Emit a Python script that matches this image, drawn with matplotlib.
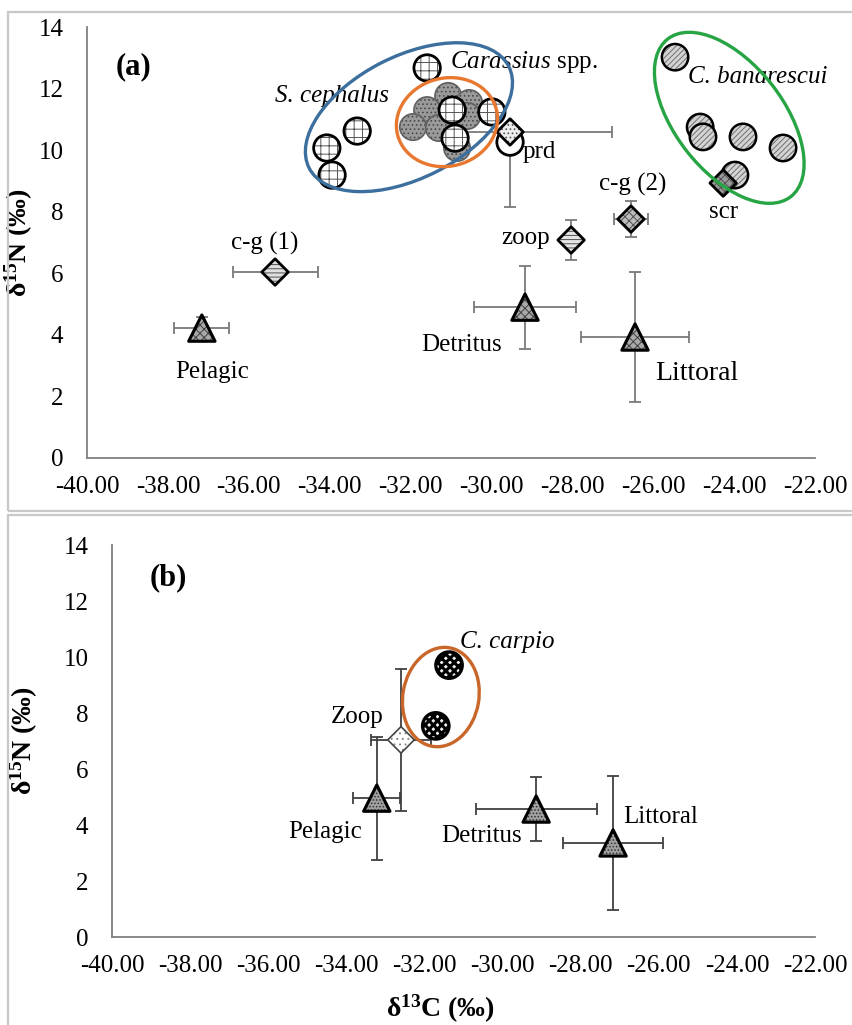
import matplotlib
matplotlib.use('Agg')
import matplotlib.pyplot as plt
import matplotlib.transforms as mtransforms
from matplotlib.patches import Ellipse, Rectangle

plt.rcParams['font.family'] = ['Liberation Serif', 'DejaVu Serif']
plt.rcParams['mathtext.fontset'] = 'custom'
plt.rcParams['mathtext.rm'] = 'Liberation Serif'
plt.rcParams['mathtext.it'] = 'Liberation Serif:italic'
plt.rcParams['mathtext.bf'] = 'Liberation Serif:bold'
plt.rcParams['axes.unicode_minus'] = False
plt.rcParams['hatch.linewidth'] = 0.7

# ---- panel (a) data ----
sceph_x = [-31.59, -33.32, -34.07, -33.94, -30.97, -30.90, -29.99]
sceph_y = [12.67, 10.62, 10.07, 9.19, 11.30, 10.39, 11.24]
caras_x = [-31.07, -30.55, -31.59, -30.60, -31.94, -31.30, -30.85]
caras_y = [11.76, 11.53, 11.30, 11.11, 10.75, 10.72, 10.07]
banar_x = [-25.46, -24.84, -24.77, -23.78, -22.79, -23.98]
banar_y = [13.02, 10.75, 10.43, 10.43, 10.07, 9.19]
prd_circle = (-29.54, 10.26)

# diet items (diamonds): c-g (1), zoop, c-g (2), prd, scr
diet_names = ['c-g (1)', 'zoop', 'c-g (2)', 'prd', 'scr']
diet_x = [-35.35, -28.03, -26.55, -29.54, -24.27]
diet_y = [6.04, 7.08, 7.76, 10.59, 8.93]
diet_xerr = [1.05, 0.0, 0.43, 2.52, 0.0]
diet_yerr_lo = [0.0, 0.65, 0.58, 2.44, 0.0]
diet_yerr_hi = [0.0, 0.65, 0.58, 0.0, 0.0]

# basal sources (triangles): Pelagic, Detritus, Littoral
src_a_x = [-37.16, -29.17, -26.45]
src_a_y = [4.22, 4.90, 3.93]
src_a_xerr = [0.68, 1.25, 1.33]
src_a_yerr = [0.35, 1.35, 2.10]

# ---- panel (b) data ----
carpio_x = [-31.37, -31.71]
carpio_y = [9.71, 7.54]
zoop_b = (-32.60, 7.04, 0.77, 2.54)
src_b_x = [-33.22, -29.14, -27.17]
src_b_y = [4.96, 4.57, 3.36]
src_b_xerr = [0.60, 1.55, 1.28]
src_b_yerr = [2.20, 1.13, 2.38]

x_ticks = [-40, -38, -36, -34, -32, -30, -28, -26, -24, -22]
y_ticks = [0, 2, 4, 6, 8, 10, 12, 14]

fig = plt.figure(figsize=(8.52, 10.25), dpi=100)
axa = fig.add_axes([87/852, 1-458/1025, 728/852, 431/1025])
axb = fig.add_axes([112/852, 1-937/1025, 703/852, 392/1025])

# grey frames round each panel
fig.add_artist(Rectangle((8/852, 1-511/1025), 1.0, 499/1025, transform=fig.transFigure,
                         fill=False, edgecolor='#c8c8c8', lw=1.6))
fig.add_artist(Rectangle((8/852, -0.01), 1.0, 510/1025 + 0.01, transform=fig.transFigure,
                         fill=False, edgecolor='#c8c8c8', lw=1.6))

ylab = r'$\mathbf{\delta^{15}N}$ $\mathbf{(‰)}$'


def style(ax):
    ax.set_xlim(-40, -22)
    ax.set_ylim(0, 14)
    ax.set_xticks(x_ticks)
    ax.set_xticklabels(['%.2f' % v for v in x_ticks])
    ax.set_yticks(y_ticks)
    for s in ['top', 'right']:
        ax.spines[s].set_visible(False)
    for s in ['left', 'bottom']:
        ax.spines[s].set_color('#808080')
        ax.spines[s].set_linewidth(1.3)
    ax.tick_params(axis='x', length=0, labelsize=18, pad=13)
    ax.tick_params(axis='y', length=0, labelsize=18, pad=17)


def mark(ax, x, y, marker, size, face, hatch, hcol, edge='black', lw=1.8, z=3, hlw=0.7):
    with plt.rc_context({'hatch.linewidth': hlw}):
        ax.scatter([x], [y], s=size**2, marker=marker, facecolor=face, edgecolor=hcol,
                   linewidth=0, hatch=hatch, zorder=z)
    ax.scatter([x], [y], s=size**2, marker=marker, facecolor='none', edgecolor=edge,
               linewidth=lw, zorder=z + 0.01)


def ring(ax, cx, cy, w, h, ang, col):
    tr = fig.dpi_scale_trans + mtransforms.ScaledTranslation(cx, cy, ax.transData)
    ax.add_patch(Ellipse((0, 0), w / 100, h / 100, angle=ang, transform=tr,
                         fill=False, edgecolor=col, lw=2.4, zorder=10))


style(axa)
style(axb)

# ---------- panel (a) ----------
axa.errorbar(src_a_x, src_a_y, xerr=src_a_xerr, yerr=src_a_yerr, fmt='none',
             ecolor='#7a7a7a', elinewidth=1.3, capsize=4.5, capthick=1.3, zorder=1)
axa.errorbar(diet_x, diet_y, xerr=diet_xerr, yerr=[diet_yerr_lo, diet_yerr_hi], fmt='none',
             ecolor='#7a7a7a', elinewidth=1.3, capsize=4.5, capthick=1.3, zorder=1)

z = 3
for x, y in zip(caras_x, caras_y):
    mark(axa, x, y, 'o', 19, '#9a9a9a', '....', '#4a4a4a', edge='#606060', lw=1.2, z=z)
    z += 0.1
for x, y in zip(sceph_x, sceph_y):
    mark(axa, x, y, 'o', 19, 'white', '++', '#555555', lw=2.0, z=z)
    z += 0.1
mark(axa, prd_circle[0], prd_circle[1], 'o', 19, 'white', None, 'white', lw=2.0, z=z)
z += 0.1
for x, y in zip(banar_x, banar_y):
    mark(axa, x, y, 'o', 19, '#d4d4d4', '//////', '#707070', lw=1.8, z=z)
    z += 0.1

diet_face = ['#e0e0e0', '#e4e4e4', '#bdbdbd', '#eeeeee', '#9a9a9a']
diet_hatch = ['----', '----', 'xxxx', '....', 'xxxx']
for i in range(len(diet_x)):
    mark(axa, diet_x[i], diet_y[i], 'D', 13.5, diet_face[i], diet_hatch[i], '#505050', lw=2.0, z=z)
    z += 0.1
for x, y in zip(src_a_x, src_a_y):
    mark(axa, x, y, '^', 19, '#a8a8a8', 'xxxx', '#404040', lw=2.2, z=z)
    z += 0.1

ring(axa, -32.04, 11.07, 224, 122, 27, '#3d6f9e')
ring(axa, -31.10, 10.91, 102, 88, 15, '#e8782f')
ring(axa, -24.12, 11.05, 200, 108, -52, '#27a444')

axa.text(-38.84, 12.70, '(a)', fontsize=22, fontweight='bold', ha='center', va='center')
axa.text(-33.94, 11.76, 'S. cephalus', fontsize=18, style='italic', ha='center', va='center')
axa.text(-31.02, 12.86, r'$\mathit{Carassius}$ spp.', fontsize=18, ha='left', va='center')
axa.text(-25.14, 12.37, 'C. banarescui', fontsize=18, style='italic', ha='left', va='center')
axa.text(-29.24, 9.94, 'prd', fontsize=18, ha='left', va='center')
axa.text(-26.52, 8.90, 'c-g (2)', fontsize=18, ha='center', va='center')
axa.text(-28.55, 7.15, 'zoop', fontsize=18, ha='right', va='center')
axa.text(-35.60, 6.98, 'c-g (1)', fontsize=18, ha='center', va='center')
axa.text(-36.91, 2.79, 'Pelagic', fontsize=18, ha='center', va='center')
axa.text(-30.73, 3.67, 'Detritus', fontsize=18, ha='center', va='center')
axa.text(-24.91, 2.76, 'Littoral', fontsize=20, ha='center', va='center')
axa.text(-24.27, 7.99, 'scr', fontsize=18, ha='center', va='center')
axa.set_ylabel(ylab, fontsize=20)
axa.yaxis.set_label_coords(-0.072, 0.5)

# ---------- panel (b) ----------
axb.errorbar(src_b_x, src_b_y, xerr=src_b_xerr, yerr=src_b_yerr, fmt='none',
             ecolor='#404040', elinewidth=1.3, capsize=4.5, capthick=1.3, zorder=1)
axb.errorbar([zoop_b[0]], [zoop_b[1]], xerr=[zoop_b[2]], yerr=[zoop_b[3]], fmt='none',
             ecolor='#404040', elinewidth=1.3, capsize=4.5, capthick=1.3, zorder=1)
z = 3
for x, y in zip(carpio_x, carpio_y):
    mark(axb, x, y, 'o', 19, '#f0f0f0', 'xxxx', '#000000', lw=2.4, z=z, hlw=2.2)
    z += 0.1
mark(axb, zoop_b[0], zoop_b[1], 'D', 13.5, 'white', '...', '#888888', edge='#444444', lw=1.2, z=z)
z += 0.1
for x, y in zip(src_b_x, src_b_y):
    mark(axb, x, y, '^', 19, '#a0a0a0', '.....', '#303030', lw=2.2, z=z)
    z += 0.1

ring(axb, -31.58, 8.57, 100, 76, 80, '#c9672a')

axb.text(-38.57, 12.82, '(b)', fontsize=22, fontweight='bold', ha='center', va='center')
axb.text(-31.10, 10.55, 'C. carpio', fontsize=18, style='italic', ha='left', va='center')
axb.text(-33.73, 7.86, 'Zoop', fontsize=18, ha='center', va='center')
axb.text(-34.55, 3.75, 'Pelagic', fontsize=18, ha='center', va='center')
axb.text(-30.53, 3.61, 'Detritus', fontsize=18, ha='center', va='center')
axb.text(-25.94, 4.29, 'Littoral', fontsize=18, ha='center', va='center')
axb.set_ylabel(ylab, fontsize=20)
axb.yaxis.set_label_coords(-0.102, 0.5)
axb.set_xlabel(r'$\mathbf{\delta^{13}C}$ $\mathbf{(‰)}$', fontsize=20)
axb.xaxis.set_label_coords(0.467, -0.143)

fig.savefig('out.png', dpi=100)
